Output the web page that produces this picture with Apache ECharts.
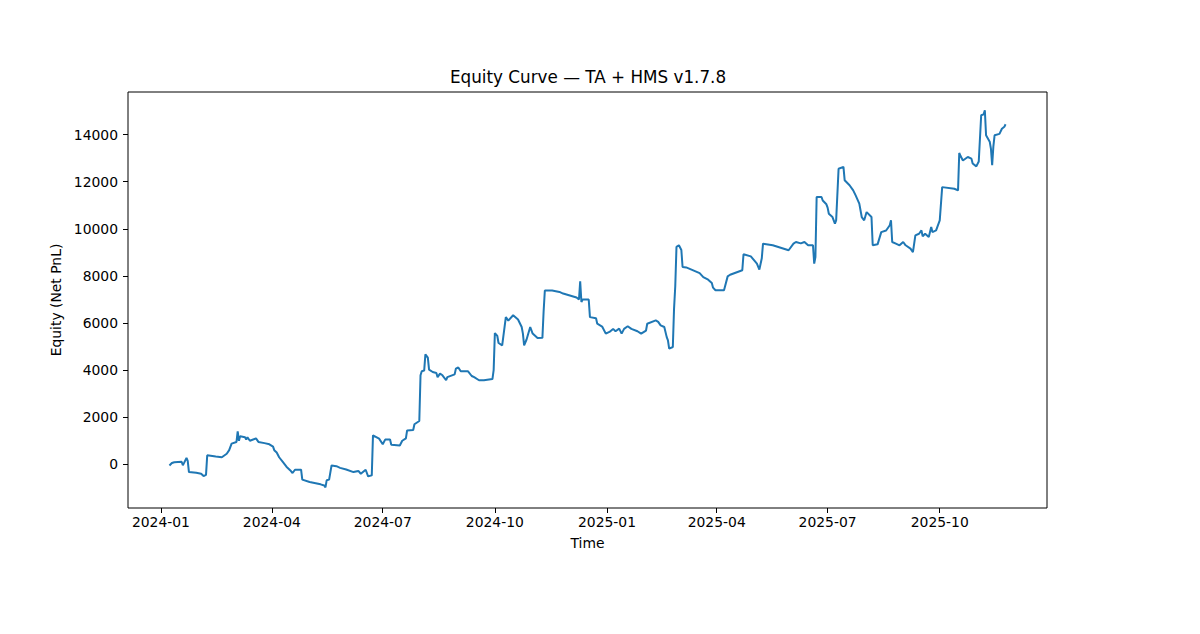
<!DOCTYPE html>
<html>
<head>
<meta charset="utf-8">
<script src="https://cdn.jsdelivr.net/npm/echarts@6/dist/echarts.min.js"></script>
<style>
  html, body { margin: 0; padding: 0; background: #fff; }
  #chart { width: 1200px; height: 634px; }
</style>
</head>
<body>
<div id="chart"></div>
<script>
// ---- data ----
const chartTitle = 'Equity Curve — TA + HMS v1.7.8';
const xAxisName = 'Time';
const yAxisName = 'Equity (Net PnL)';

const dates = [
  '2024-01-08','2024-01-10','2024-01-12','2024-01-18','2024-01-19','2024-01-20','2024-01-22','2024-01-23','2024-01-24','2024-01-30',
  '2024-02-03','2024-02-05','2024-02-07','2024-02-08','2024-02-15','2024-02-20','2024-02-24','2024-02-26','2024-02-28','2024-03-03',
  '2024-03-04','2024-03-05','2024-03-06','2024-03-10','2024-03-11','2024-03-12','2024-03-14','2024-03-19','2024-03-21','2024-03-26',
  '2024-03-30','2024-04-02','2024-04-03','2024-04-05','2024-04-07','2024-04-10','2024-04-13','2024-04-16','2024-04-18','2024-04-20',
  '2024-04-25','2024-04-26','2024-05-02','2024-05-07','2024-05-11','2024-05-14','2024-05-15','2024-05-16','2024-05-18','2024-05-20',
  '2024-05-24','2024-05-27','2024-06-01','2024-06-07','2024-06-11','2024-06-13','2024-06-17','2024-06-19','2024-06-22','2024-06-23',
  '2024-06-28','2024-07-01','2024-07-03','2024-07-07','2024-07-08','2024-07-15','2024-07-17','2024-07-20','2024-07-21','2024-07-26',
  '2024-07-27','2024-07-31','2024-08-01','2024-08-02','2024-08-04','2024-08-05','2024-08-07','2024-08-08','2024-08-11','2024-08-14',
  '2024-08-15','2024-08-17','2024-08-19','2024-08-22','2024-08-23','2024-08-29','2024-08-30','2024-09-01','2024-09-03','2024-09-09',
  '2024-09-12','2024-09-14','2024-09-18','2024-09-22','2024-09-29','2024-09-30','2024-10-01','2024-10-03','2024-10-04','2024-10-07',
  '2024-10-10','2024-10-12','2024-10-16','2024-10-20','2024-10-23','2024-10-24','2024-10-25','2024-10-27','2024-10-30','2024-11-01',
  '2024-11-05','2024-11-09','2024-11-10','2024-11-11','2024-11-17','2024-11-23','2024-11-26','2024-12-07','2024-12-09','2024-12-10',
  '2024-12-11','2024-12-12','2024-12-17','2024-12-18','2024-12-23','2024-12-24','2024-12-28','2024-12-31',
  '2025-01-03','2025-01-06','2025-01-08','2025-01-11','2025-01-13','2025-01-15','2025-01-18','2025-01-21','2025-01-26','2025-01-29',
  '2025-02-02','2025-02-03','2025-02-10','2025-02-12','2025-02-14','2025-02-17','2025-02-19','2025-02-20','2025-02-21','2025-02-24',
  '2025-02-25','2025-02-26','2025-02-27','2025-03-01','2025-03-03','2025-03-04','2025-03-07','2025-03-18','2025-03-21','2025-03-25',
  '2025-03-28','2025-03-29','2025-03-31','2025-04-07','2025-04-10','2025-04-12','2025-04-22','2025-04-23','2025-04-29','2025-05-04',
  '2025-05-06','2025-05-08','2025-05-09','2025-05-17','2025-05-30','2025-06-03','2025-06-05','2025-06-09','2025-06-12','2025-06-15',
  '2025-06-19','2025-06-20','2025-06-21','2025-06-22','2025-06-26','2025-06-27','2025-06-30','2025-07-01','2025-07-02','2025-07-05',
  '2025-07-07','2025-07-08','2025-07-10','2025-07-14','2025-07-15','2025-07-19','2025-07-22','2025-07-24','2025-07-27','2025-07-29',
  '2025-07-31','2025-08-02','2025-08-06','2025-08-07','2025-08-11','2025-08-14','2025-08-18','2025-08-21','2025-08-22','2025-08-23',
  '2025-08-26','2025-08-29','2025-09-01','2025-09-03','2025-09-07','2025-09-09','2025-09-11','2025-09-14','2025-09-16','2025-09-17',
  '2025-09-19','2025-09-22','2025-09-24','2025-09-25','2025-09-28','2025-10-01','2025-10-03','2025-10-13','2025-10-16','2025-10-17',
  '2025-10-18','2025-10-20','2025-10-24','2025-10-27','2025-10-28','2025-10-31','2025-11-02','2025-11-04','2025-11-06','2025-11-07',
  '2025-11-08','2025-11-11','2025-11-12','2025-11-13','2025-11-14','2025-11-15','2025-11-19','2025-11-21','2025-11-23','2025-11-24'
];

const equity = [
  -50, 55, 90, 110, -40, 60, 270, 150, -330, -360,
  -400, -500, -450, 380, 330, 300, 450, 600, 880, 950,
  1400, 1000, 1190, 1150, 1050, 1150, 1000, 1100, 950, 900,
  850, 750, 600, 500, 300, 100, -100, -250, -370, -230,
  -230, -650, -750, -800, -850, -900, -980, -680, -650, -50,
  -80, -150, -220, -330, -280, -400, -230, -510, -470, 1230,
  1090, 850, 1050, 1050, 830, 800, 1000, 1100, 1440, 1460,
  1700, 1840, 3780, 3950, 3980, 4670, 4530, 4020, 3920, 3880,
  3700, 3850, 3780, 3570, 3700, 3820, 4060, 4110, 3950, 3950,
  3750, 3700, 3570, 3570, 3620, 4000, 5575, 5450, 5150, 5050,
  6250, 6100, 6330, 6150, 5830, 5550, 5050, 5300, 5830, 5550,
  5360, 5370, 6500, 7380, 7380, 7320, 7250, 7080, 7000, 7770,
  6890, 7000, 7000, 6250, 6200, 5970, 5850, 5550,
  5620, 5750, 5650, 5760, 5550, 5750, 5860, 5750, 5650, 5550,
  5680, 5970, 6110, 6050, 5900, 5830, 5400, 5260, 4910, 4980,
  6600, 7560, 9230, 9300, 9100, 8380, 8360, 8120, 7950, 7840,
  7700, 7500, 7390, 7390, 7980, 8050, 8240, 8920, 8830, 8520,
  8270, 8750, 9370, 9300, 9090, 9370, 9440, 9380, 9440, 9300,
  9300, 8520, 8800, 11350, 11350, 11200, 11040, 10900, 10640, 10500,
  10220, 10360, 12550, 12630, 12060, 11850, 11630, 11420, 11070, 10500,
  10360, 10710, 10500, 9300, 9340, 9860, 9930, 10150, 10360, 9440,
  9370, 9300, 9440, 9300, 9160, 9010, 9720, 9790, 9930, 9680,
  9790, 9650, 10080, 9860, 9930, 10360, 11770, 11700, 11630, 13220,
  13100, 12900, 13050, 12980, 12770, 12650, 12860, 14820, 14860, 15030,
  13970, 13700, 13400, 12700, 13500, 13970, 14030, 14250, 14330, 14440
];

const xTickDates = ['2024-01-01','2024-04-01','2024-07-01','2024-10-01','2025-01-01','2025-04-01','2025-07-01','2025-10-01'];
const yTickValues = [0, 2000, 4000, 6000, 8000, 10000, 12000, 14000];
const xRange = ['2023-12-05', '2025-12-28'];
const yRange = [-1855, 15809];

// ---- helpers ----
function ts(s) {
  const p = s.split('-').map(Number);
  return new Date(p[0], p[1] - 1, p[2]).getTime();
}
function pad(n) { return n < 10 ? '0' + n : '' + n; }

const seriesData = dates.map((d, i) => [ts(d), equity[i]]);
const font = 'DejaVu Sans';

const chart = echarts.init(document.getElementById('chart'), null, { renderer: 'svg' });
chart.setOption({
  animation: false,
  backgroundColor: '#ffffff',
  textStyle: { fontFamily: font },
  grid: {
    left: 128, right: 153, top: 92, bottom: 126,
    show: true, borderColor: '#000000', borderWidth: 1, backgroundColor: 'transparent'
  },
  graphic: [{
    type: 'text',
    x: 588,
    y: 77,
    style: {
      text: chartTitle,
      align: 'center', verticalAlign: 'middle',
      fontSize: 16.8, fontFamily: font,
      fill: '#000000'
    }
  }],
  xAxis: {
    type: 'value',
    min: ts(xRange[0]),
    max: ts(xRange[1]),
    name: xAxisName,
    nameLocation: 'middle',
    nameGap: 28,
    nameTextStyle: { fontSize: 13.9, color: '#000', fontFamily: font },
    axisLine: { show: false, onZero: false },
    splitLine: { show: false },
    axisTick: {
      show: true, inside: false, length: 5,
      lineStyle: { color: '#000', width: 1 },
      customValues: xTickDates.map(ts)
    },
    axisLabel: {
      show: true, margin: 7, fontSize: 13.9, color: '#000', fontFamily: font,
      customValues: xTickDates.map(ts),
      formatter: function (v) {
        const d = new Date(v);
        return d.getFullYear() + '-' + pad(d.getMonth() + 1);
      }
    }
  },
  yAxis: {
    type: 'value',
    min: yRange[0],
    max: yRange[1],
    name: yAxisName,
    nameLocation: 'middle',
    nameRotate: 90,
    nameGap: 48,
    nameTextStyle: { fontSize: 13.9, color: '#000', fontFamily: font },
    axisLine: { show: false, onZero: false },
    splitLine: { show: false },
    axisTick: {
      show: true, inside: false, length: 5,
      lineStyle: { color: '#000', width: 1 },
      customValues: yTickValues
    },
    axisLabel: {
      show: true, margin: 10, fontSize: 13.9, color: '#000', fontFamily: font,
      customValues: yTickValues,
      formatter: function (v) { return String(Math.round(v)); }
    }
  },
  series: [{
    type: 'line',
    data: seriesData,
    showSymbol: false,
    symbol: 'none',
    smooth: false,
    lineStyle: { color: '#1f77b4', width: 2 },
    itemStyle: { color: '#1f77b4' }
  }]
});
</script>
</body>
</html>
